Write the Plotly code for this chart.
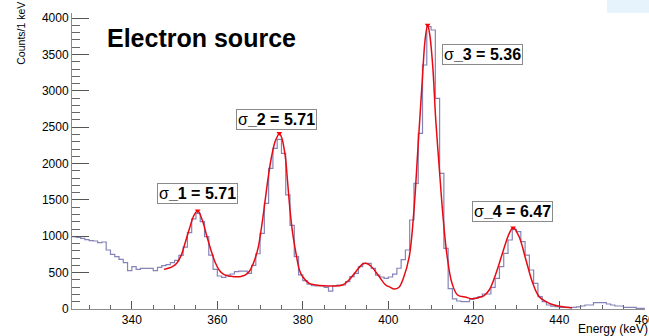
import plotly.graph_objects as go

# ---------------- data ----------------
bin_low = list(range(326, 460))  # 1 keV bins, lower edges
counts = [
    994, 985, 970, 955, 940, 935, 912, 921, 811, 752,   # 326-335
    719, 683, 637, 527, 582, 545, 559, 559, 559, 527,   # 336-345
    573, 596, 610, 637, 669, 738, 850, 1050, 1240, 1316,  # 346-355
    1201, 994, 742, 545, 454, 436, 467, 481, 513, 522,  # 356-365
    522, 490, 600, 760, 1041, 1453, 1934, 2209, 2333, 2141,  # 366-375
    1568, 1150, 720, 470, 390, 340, 320, 316, 316, 298,  # 376-385
    247, 320, 330, 330, 376, 444, 490, 582, 628, 628,   # 386-395
    559, 467, 440, 422, 440, 480, 560, 680, 811, 1224,  # 396-405
    1728, 2416, 3355, 3882, 3836, 2897, 1866, 834, 280, 140,  # 406-415
    110, 101, 101, 133, 150, 170, 206, 206, 298, 422,   # 416-425
    582, 766, 949, 1096, 1063, 926, 742, 536, 353, 169,  # 426-435
    101, 55, 40, 32, 23, 23, 23, 23, 30, 41,            # 436-445
    55, 55, 87, 87, 87, 69, 55, 41, 41, 23,             # 446-455
    23, 23, 9, 9,                                       # 456-459
]

fit_e = [347.5, 348.5, 349.5, 350.5, 351.5, 352.5, 353.5, 354.5, 355.4, 356.5,
         357.5, 358.5, 359.5, 360.5, 361.5, 362.5, 363.5, 364.5, 365.5, 366.5,
         367.5, 368.5, 369.5, 370.5, 371.2, 372.0, 372.7, 373.5, 374.1, 374.5,
         375.1, 375.9, 376.4, 377.0, 377.6, 378.4, 379.2, 380.0, 381.5, 383.1,
         385.0, 387.0, 389.3, 390.8, 392.4, 394.0, 394.7, 395.9, 397.6, 399.4,
         400.4, 401.4, 402.5, 403.5, 404.9, 406.0, 407.0, 407.9, 408.6, 409.2,
         409.7, 410.4, 411.1, 411.9, 412.8, 413.7, 414.9, 416.2, 418.2, 419.7,
         421.3, 422.3, 423.6, 425.2, 426.7, 428.3, 429.2, 430.6, 432.2, 433.8,
         435.3, 437.7, 439.5, 441.6, 443.0]
fit_counts = [545, 560, 582, 630, 730, 915, 1110, 1285, 1352, 1220,
              1010, 811, 640, 530, 475, 455, 448, 445, 448, 465,
              520, 640, 830, 1190, 1500, 1850, 2100, 2300, 2379, 2416,
              2347, 2094, 1774, 1361, 1050, 766, 536, 440, 353, 330,
              318, 316, 330, 399, 513, 619, 628, 591, 467, 330,
              300, 275, 300, 420, 720, 1360, 2278, 3103, 3699, 3905,
              3768, 3332, 2599, 1957, 1269, 750, 353, 193, 161, 140,
              160, 180, 261, 490, 766, 1041, 1118, 994, 674, 353,
              169, 78, 45, 23, 15]

peak_e = [355.4, 374.5, 409.2, 429.2]
peak_counts = [1352, 2416, 3905, 1118]

peak_labels = ["σ_1 = 5.71", "σ_2 = 5.71", "σ_3 = 5.36", "σ_4 = 6.47"]
label_e = [355.3, 373.9, 422.0, 429.1]
label_counts = [1595, 2603, 3503, 1338]

x_ticks = [340, 360, 380, 400, 420, 440, 460]
y_ticks = [0, 500, 1000, 1500, 2000, 2500, 3000, 3500, 4000]

# ---------------- figure ----------------
FONT = "Liberation Sans, Arial, Helvetica, sans-serif"
bin_w = bin_low[1] - bin_low[0]
step_x = bin_low + [bin_low[-1] + bin_w]
step_y = counts + [counts[-1]]

fig = go.Figure()
fig.add_trace(go.Scatter(x=step_x, y=step_y, mode="lines", line_shape="hv",
                         line=dict(color="rgb(132,132,184)", width=1.2),
                         hoverinfo="skip", showlegend=False))
fig.add_trace(go.Scatter(x=fit_e, y=fit_counts, mode="lines", line_shape="spline",
                         line=dict(color="rgb(230,10,20)", width=1.5),
                         showlegend=False))
fig.add_trace(go.Scatter(x=peak_e, y=peak_counts, mode="markers",
                         marker=dict(symbol="triangle-down", size=5, color="red"),
                         showlegend=False))

annotations = []
for txt, ex, cy in zip(peak_labels, label_e, label_counts):
    sym, rest = txt[0], txt[1:]
    annotations.append(dict(x=ex, y=cy, xref="x", yref="y",
                            text=sym + "<b>" + rest + "</b>", showarrow=False,
                            font=dict(family=FONT, size=16, color="black"),
                            bgcolor="white", bordercolor="#8a8a8a", borderwidth=1,
                            borderpad=1, xanchor="center", yanchor="middle"))

annotations.append(dict(x=333.75, y=3733, xref="x", yref="y", text="<b>Electron source</b>",
                        showarrow=False, xanchor="left", yanchor="middle",
                        font=dict(family=FONT, size=25, color="black")))
annotations.append(dict(x=1.009, y=-0.068, xref="paper", yref="paper", text="Energy (keV)",
                        showarrow=False, xanchor="right", yanchor="middle",
                        font=dict(family=FONT, size=12, color="black")))
annotations.append(dict(x=-0.089, y=0.93, xref="paper", yref="paper", text="Counts/1 keV",
                        showarrow=False, xanchor="center", yanchor="middle", textangle=-90,
                        font=dict(family=FONT, size=10.5, color="black")))

fig.update_layout(
    width=649, height=336,
    margin=dict(l=72, r=4, t=13, b=27, autoexpand=False),
    paper_bgcolor="white", plot_bgcolor="white",
    font=dict(family=FONT, size=12, color="black"),
    annotations=annotations,
    shapes=[dict(type="rect", xref="paper", yref="paper", x0=0.9337, x1=1.02,
                 y0=1.001, y1=1.05, fillcolor="#e6f2fc", line=dict(width=0), layer="below")],
)
fig.update_xaxes(range=[326, 460.05], showgrid=False, zeroline=False, automargin=False,
                 showline=True, linecolor="#8c8c8c", linewidth=1,
                 ticks="inside", ticklen=8, tickcolor="#555", tickwidth=1,
                 tickvals=x_ticks, ticktext=[str(v) for v in x_ticks],
                 ticklabeloverflow="allow",
                 minor=dict(dtick=5, tick0=0, ticks="inside", ticklen=4,
                            tickcolor="#666", tickwidth=1, showgrid=False),
                 tickfont=dict(size=12))
fig.update_yaxes(range=[0, 4070], showgrid=False, zeroline=False, automargin=False,
                 showline=True, linecolor="#8c8c8c", linewidth=1,
                 ticks="inside", ticklen=17, tickcolor="#555", tickwidth=1,
                 tickvals=y_ticks, ticktext=[str(v) for v in y_ticks],
                 minor=dict(dtick=100, tick0=0, ticks="inside", ticklen=8,
                            tickcolor="#666", tickwidth=1, showgrid=False),
                 tickfont=dict(size=12))

fig.write_html("out.html", config={"displayModeBar": False},
               post_script="document.body.style.margin='0px';")
